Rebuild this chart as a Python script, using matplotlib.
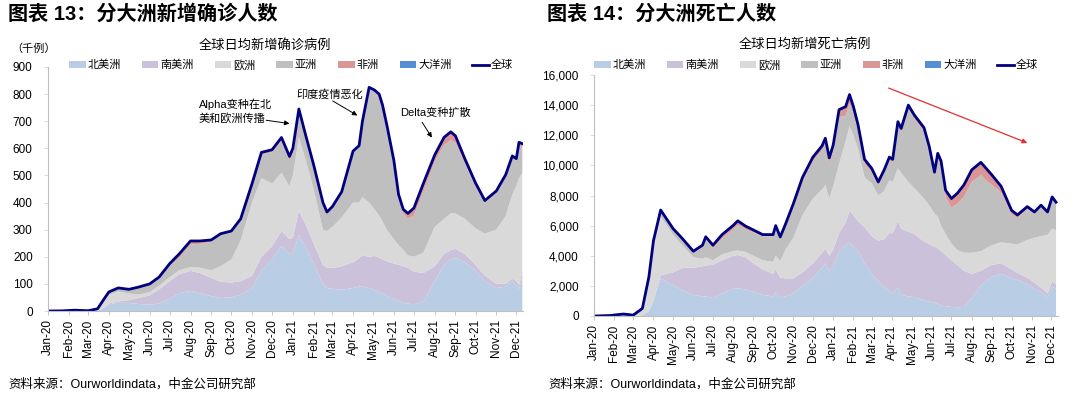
import matplotlib
matplotlib.use("Agg")
import matplotlib.pyplot as plt
import matplotlib.dates as mdates
from matplotlib.patches import Patch
from matplotlib.lines import Line2D
import numpy as np
import pandas as pd

plt.rcParams['font.family'] = ['Liberation Sans', 'Noto Sans CJK SC', 'DejaVu Sans']

# ---------------- data: cases (thousands) ----------------
case_dates = ['2020-01-01', '2020-01-22', '2020-02-10', '2020-03-01', '2020-03-15', '2020-03-25',
              '2020-04-01', '2020-04-15', '2020-05-01', '2020-05-15', '2020-06-01', '2020-06-15',
              '2020-07-01', '2020-07-15', '2020-08-01', '2020-08-15', '2020-09-01', '2020-09-15',
              '2020-10-01', '2020-10-15', '2020-11-01', '2020-11-15', '2020-12-01', '2020-12-15',
              '2020-12-27', '2021-01-01', '2021-01-10', '2021-01-20', '2021-02-01', '2021-02-15',
              '2021-02-21', '2021-03-01', '2021-03-15', '2021-04-01', '2021-04-10', '2021-04-15',
              '2021-04-25', '2021-05-03', '2021-05-10', '2021-05-15', '2021-05-22', '2021-06-01',
              '2021-06-08', '2021-06-15', '2021-06-22',
              '2021-07-01', '2021-07-15', '2021-08-01', '2021-08-15', '2021-08-25', '2021-09-01',
              '2021-09-15', '2021-10-01', '2021-10-15', '2021-11-01', '2021-11-15', '2021-11-25',
              '2021-12-01', '2021-12-05', '2021-12-10']
case_na = [0, 0, 0, 0, 0.5, 12, 25, 30, 30, 26, 23, 28, 45, 65, 75, 65, 55, 48, 50, 60, 85, 150, 190, 240,
           210, 215, 280, 235, 175, 100, 85, 82, 78, 85, 90, 92, 85, 78, 70, 65, 55, 45,
           38, 30, 27,
           25, 35, 110, 170, 190, 195, 180, 150, 110, 85, 90, 110, 95, 80, 125]
case_sa = [0, 0, 0, 0, 0.2, 1, 3, 5, 10, 22, 35, 52, 65, 70, 73, 75, 67, 60, 55, 50, 45, 50, 50, 55,
           55, 55, 90, 85, 75, 70, 75, 76, 87, 95, 105, 113, 115, 125, 127, 125, 128, 130,
           133, 135, 133,
           120, 105, 55, 40, 35, 35, 30, 20, 20, 15, 10, 10, 15, 15, 20]
case_eu = [0, 0, 0, 0, 4.8, 25, 32, 37, 25, 12, 12, 13, 15, 15, 14, 20, 28, 57, 85, 150, 270, 290, 230, 215,
           195, 230, 270, 240, 200, 130, 135, 152, 180, 220, 205, 215, 200, 172, 155, 140, 115, 90,
           72, 60, 45,
           55, 75, 145, 130, 135, 130, 130, 135, 155, 200, 250, 310, 350, 395, 365]
case_as = [0, 0.5, 3, 1, 2.5, 7, 9, 12, 13, 25, 26, 27, 41, 46, 83, 88, 105, 115, 100, 75, 63, 87, 116, 118,
           96, 82, 83, 72, 78, 92, 64, 69, 89, 184, 204, 274, 419, 434, 442, 424, 376, 282,
           177, 135, 135,
           152, 225, 240, 272, 270, 260, 205, 157, 115, 136, 146, 135, 94, 122, 95]
case_af = [0, 0, 0, 0, 0, 0, 1, 1, 2, 3, 4, 5, 9, 14, 13, 10, 7, 5, 5, 5, 7, 8, 9, 12,
           14, 18, 22, 18, 12, 8, 6, 6, 6, 6, 6, 6, 6, 6, 6, 6, 6, 8,
           10, 15, 20,
           28, 30, 25, 28, 30, 25, 15, 8, 5, 4, 4, 5, 6, 8, 10]
case_oc = [0, 0, 0, 0, 0, 0.1, 0.3, 0.1, 0, 0, 0, 0, 0, 0.2, 0.4, 0.3, 0.1, 0, 0, 0, 0, 0, 0, 0,
           0, 0, 0, 0, 0, 0, 0, 0, 0, 0, 0, 0, 0, 0, 0, 0, 0, 0,
           0, 0, 0,
           0.1, 0.2, 0.3, 0.5, 0.8, 1.2, 2, 2.5, 2.5, 2.5, 2.2, 2.0, 2.0, 2.2, 2.3]

# ---------------- data: deaths ----------------
death_dates = ['2020-01-01', '2020-01-25', '2020-02-15', '2020-03-01', '2020-03-15', '2020-03-25',
               '2020-04-01', '2020-04-12', '2020-05-01', '2020-05-15', '2020-06-01', '2020-06-15',
               '2020-06-20', '2020-07-01', '2020-07-15', '2020-08-01', '2020-08-08', '2020-08-20',
               '2020-09-01', '2020-09-15', '2020-10-01', '2020-10-05', '2020-10-12', '2020-10-20',
               '2020-11-01', '2020-11-15', '2020-12-01', '2020-12-15', '2020-12-20', '2020-12-26',
               '2021-01-01', '2021-01-10', '2021-01-20', '2021-01-26', '2021-02-01', '2021-02-08',
               '2021-02-18', '2021-03-01', '2021-03-11', '2021-03-20', '2021-03-28', '2021-04-02',
               '2021-04-10', '2021-04-15', '2021-04-26', '2021-05-05', '2021-05-20', '2021-05-28',
               '2021-06-05', '2021-06-10', '2021-06-15', '2021-06-22', '2021-07-01', '2021-07-10',
               '2021-07-20', '2021-08-01', '2021-08-15', '2021-08-23', '2021-09-01', '2021-09-15',
               '2021-10-01', '2021-10-10', '2021-10-25', '2021-11-05', '2021-11-15', '2021-11-25',
               '2021-12-02', '2021-12-08']
death_na = [0, 0, 0, 0, 50, 300, 1000, 2500, 2050, 1700, 1400, 1300, 1300, 1200, 1500, 1800, 1850, 1750,
            1600, 1400, 1300, 1600, 1250, 1300, 1500, 2000, 2500, 3200, 3500, 3000,
            3300, 4300, 4700, 4900, 4600, 4300, 3500, 2800, 2300, 1900, 1700, 1500,
            1900, 1400, 1300, 1250, 1050, 950, 900, 800, 700, 650, 600, 580,
            600, 1200, 2000, 2300, 2600, 2800, 2500, 2400, 2100, 1800, 1600, 1200, 2000, 1800]
death_sa = [0, 0, 0, 0, 0, 30, 100, 200, 850, 1500, 1800, 2000, 2050, 2200, 2200, 2200, 2200, 2150,
            1900, 1700, 1500, 1500, 1300, 1200, 1000, 900, 1000, 1000, 1000, 1000,
            1100, 1200, 1500, 2100, 2100, 2000, 2400, 2500, 2700, 3200, 3800, 4000,
            4400, 4400, 4300, 4200, 3900, 3800, 3700, 3700, 3600, 3400, 3100, 2800,
            2400, 1600, 1000, 900, 800, 700, 600, 450, 450, 400, 300, 300, 300, 300]
death_eu = [0, 0, 0, 0, 350, 2100, 3700, 3900, 2500, 1500, 700, 500, 550, 300, 400, 300, 300, 350,
            500, 600, 800, 900, 1100, 1900, 2700, 3800, 4300, 4200, 4200, 3800,
            4200, 4600, 5400, 5600, 5300, 4800, 3300, 3500, 3000, 3200, 3500, 3400,
            3500, 3700, 3300, 3050, 2850, 2600, 2200, 2100, 1700, 1400, 1100, 1000,
            1200, 1400, 1300, 1300, 1300, 1400, 1700, 1900, 2500, 3000, 3400, 3900, 3500, 3600]
death_as = [0, 30, 130, 60, 100, 150, 170, 380, 340, 370, 300, 750, 1210, 800, 1050, 1450, 1700, 1500,
            1550, 1580, 1700, 1900, 1500, 1600, 2100, 2300, 2500, 2600, 2750, 2350,
            2350, 3100, 1700, 1500, 1400, 1200, 900, 750, 700, 1200, 1350, 1300,
            2850, 2700, 4850, 4600, 4450, 3650, 2500, 3900, 3950, 2450, 2400, 3070,
            3700, 4700, 5050, 4500, 4000, 3300, 1950, 1750, 2050, 1580, 1950, 1400, 2000, 1750]
death_af = [0, 0, 0, 0, 0, 20, 30, 50, 60, 80, 100, 150, 150, 200, 250, 250, 250, 200,
            150, 120, 100, 100, 100, 100, 150, 200, 250, 300, 350, 350,
            400, 500, 600, 600, 500, 400, 300, 250, 200, 200, 200, 200,
            250, 250, 250, 250, 250, 250, 250, 300, 350, 450, 600, 700,
            800, 800, 850, 800, 650, 400, 250, 200, 150, 120, 100, 100, 100, 100]
death_oc = [0, 0, 0, 0, 0, 1, 3, 5, 3, 1, 0, 0, 0, 1, 5, 15, 18, 15,
            10, 5, 2, 1, 0, 0, 0, 0, 0, 0, 0, 0,
            0, 0, 0, 0, 0, 0, 0, 0, 0, 0, 0, 0,
            0, 0, 0, 0, 0, 0, 0, 0, 0, 0, 0, 0,
            0, 1, 2, 3, 5, 8, 12, 12, 12, 10, 8, 6, 5, 5]

labels = ['北美洲', '南美洲', '欧洲', '亚洲', '非洲', '大洋洲']
total_label = '全球'
colors = ['#B9CDE5', '#CCC1DA', '#D9D9D9', '#BFBFBF', '#DA9694', '#558ED5']
line_color = '#000080'

W, H = 1080, 395
fig = plt.figure(figsize=(W / 100, H / 100), dpi=100)


def fx(px):
    return px / W


def fy(py):
    return 1 - py / H


def setup_axis(ax, ymax, ystep, fmt):
    ax.set_ylim(0, ymax)
    ax.set_yticks(np.arange(0, ymax + 1, ystep))
    ax.yaxis.set_major_formatter(matplotlib.ticker.FuncFormatter(fmt))
    ax.set_xlim(pd.Timestamp('2020-01-01'), pd.Timestamp('2021-12-11'))
    ax.xaxis.set_major_locator(mdates.MonthLocator())
    ax.xaxis.set_major_formatter(mdates.DateFormatter('%b-%y'))
    for s in ['top', 'right']:
        ax.spines[s].set_visible(False)
    for s in ['left', 'bottom']:
        ax.spines[s].set_color('#BFBFBF')
        ax.spines[s].set_linewidth(0.8)
    ax.tick_params(axis='x', direction='out', length=3, width=0.6, color='#BFBFBF',
                   labelsize=8.5, labelrotation=90, pad=3)
    ax.tick_params(axis='y', direction='out', length=3, width=0.6, color='#D9D9D9',
                   labelsize=8.5, pad=8)
    for lab in ax.get_xticklabels():
        lab.set_horizontalalignment('center')


def draw(ax, dates, series, ymax, ystep, fmt):
    d = pd.to_datetime(dates)
    arrs = [np.array(s, dtype=float) for s in series]
    ax.stackplot(d, *arrs, colors=colors, linewidth=0)
    total = np.sum(arrs, axis=0)
    ax.plot(d, total, color=line_color, lw=2.0, solid_joinstyle='round')
    setup_axis(ax, ymax, ystep, fmt)


# ---- left chart ----
ax1 = fig.add_axes([fx(48), fy(311), fx(523 - 48), fy(67) - fy(311)])
draw(ax1, case_dates, [case_na, case_sa, case_eu, case_as, case_af, case_oc], 900, 100,
     lambda v, p: f'{int(v)}')

# ---- right chart ----
ax2 = fig.add_axes([fx(594), fy(316), fx(1058 - 594), fy(75) - fy(316)])
draw(ax2, death_dates, [death_na, death_sa, death_eu, death_as, death_af, death_oc], 16000, 2000,
     lambda v, p: f'{int(v):,}')

# ---- titles and text ----
fig.text(fx(8), fy(14), '图表 13：分大洲新增确诊人数', fontsize=14.5, fontweight='bold',
         ha='left', va='center')
fig.text(fx(547), fy(14), '图表 14：分大洲死亡人数', fontsize=14.5, fontweight='bold',
         ha='left', va='center')
fig.text(fx(265), fy(45), '全球日均新增确诊病例', fontsize=9.5, ha='center', va='center')
fig.text(fx(805), fy(45), '全球日均新增死亡病例', fontsize=9.5, ha='center', va='center')
fig.text(fx(34), fy(49), '（千例）', fontsize=8, ha='center', va='center')
fig.text(fx(8), fy(384), '资料来源：Ourworldindata，中金公司研究部', fontsize=9, ha='left', va='center')
fig.text(fx(548), fy(384), '资料来源：Ourworldindata，中金公司研究部', fontsize=9, ha='left', va='center')

# ---- legends ----
handles = [Patch(facecolor=c, edgecolor='none') for c in colors] + \
          [Line2D([0], [0], color=line_color, lw=2.0)]
names = labels + [total_label]
for cx in (291, 816):
    fig.legend(handles, names, loc='center', bbox_to_anchor=(fx(cx), fy(65)), ncol=7,
               frameon=False, fontsize=8, handlelength=1.5, handleheight=0.6,
               handletextpad=0.15, columnspacing=1.9, borderpad=0)

# ---- annotations (left) ----
arrow = dict(arrowstyle='-|>', color='black', lw=0.7, mutation_scale=7)
ax1.text(pd.Timestamp('2020-08-13'), 738, 'Alpha变种在北\n美和欧洲传播', fontsize=8,
         ha='left', va='center', linespacing=1.3)
ax1.annotate('', xy=(pd.Timestamp('2020-12-31'), 690),
             xytext=(pd.Timestamp('2020-11-18'), 705), arrowprops=arrow)
ax1.text(pd.Timestamp('2021-02-25'), 800, '印度疫情恶化', fontsize=8, ha='center', va='center')
ax1.annotate('', xy=(pd.Timestamp('2021-04-11'), 716),
             xytext=(pd.Timestamp('2021-02-26'), 780), arrowprops=arrow)
ax1.text(pd.Timestamp('2021-08-02'), 731, 'Delta变种扩散', fontsize=8, ha='center', va='center')
ax1.annotate('', xy=(pd.Timestamp('2021-07-30'), 631),
             xytext=(pd.Timestamp('2021-07-11'), 705), arrowprops=arrow)

# ---- red trend arrow (right) ----
ax2.annotate('', xy=(pd.Timestamp('2021-10-29'), 11420),
             xytext=(pd.Timestamp('2021-03-23'), 15200),
             arrowprops=dict(arrowstyle='-|>', color='#E03030', lw=0.9, mutation_scale=7))

fig.savefig('out.png', dpi=100)
